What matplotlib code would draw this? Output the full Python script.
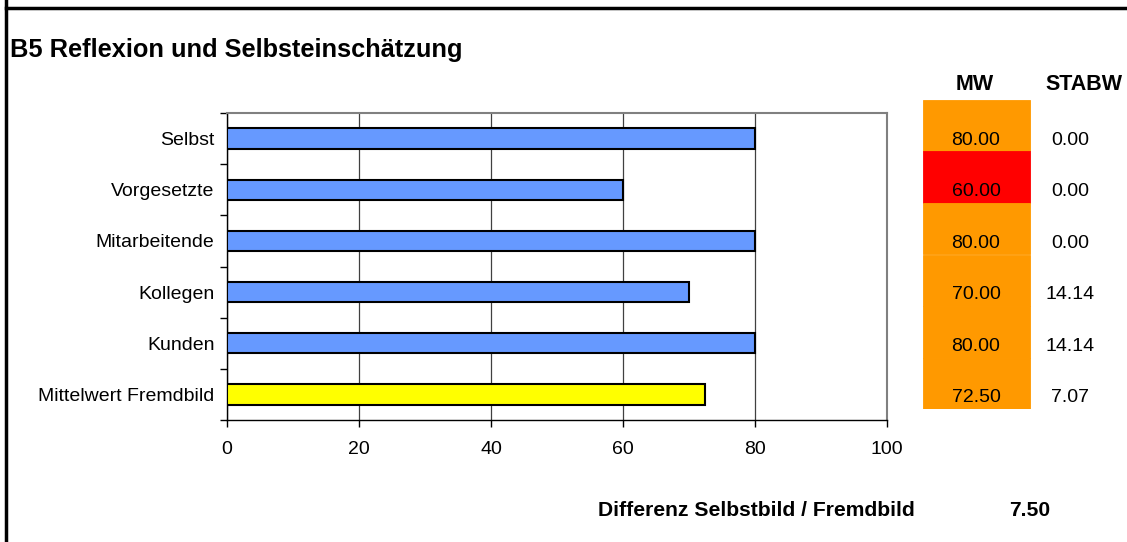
import matplotlib.pyplot as plt
from matplotlib.lines import Line2D

plt.rcParams['font.family'] = ['Liberation Sans', 'DejaVu Sans']

# Data
categories = ['Selbst', 'Vorgesetzte', 'Mitarbeitende', 'Kollegen', 'Kunden', 'Mittelwert Fremdbild']
values = [80, 60, 80, 70, 80, 72.5]
bar_colors = ['#6699FF', '#6699FF', '#6699FF', '#6699FF', '#6699FF', '#FFFF00']
mw_values = [80.00, 60.00, 80.00, 70.00, 80.00, 72.50]
mw_colors = ['#FF9900', '#FF0000', '#FF9900', '#FF9900', '#FF9900', '#FF9900']
stabw_values = [0.00, 0.00, 0.00, 14.14, 14.14, 7.07]
differenz = 7.50

W, H = 1127, 542
fig = plt.figure(figsize=(W / 100, H / 100), dpi=100)

# frame lines (top and left)
fig.add_artist(Line2D([6 / W, 6 / W], [0, 1], color='black', lw=2.5, transform=fig.transFigure))
fig.add_artist(Line2D([6 / W, 1], [1 - 8 / H, 1 - 8 / H], color='black', lw=2.5, transform=fig.transFigure))

fig.text(10 / W, 1 - 50 / H, 'B5 Reflexion und Selbsteinschätzung', fontsize=18.3,
         fontweight='bold', va='center', ha='left')

# main bar chart
ax = fig.add_axes([227 / W, (H - 420) / H, 660 / W, 307 / H])
y = list(range(len(categories)))
ax.barh(y, values, height=0.4, color=bar_colors, edgecolor='black', linewidth=1.5, zorder=3)
ax.set_xlim(0, 100)
ax.set_ylim(len(categories) - 0.5, -0.5)
ax.set_xticks([0, 20, 40, 60, 80, 100])
ax.set_yticks(y)
ax.set_yticklabels(categories)
ax.set_yticks([i - 0.5 for i in range(len(categories) + 1)], minor=True)
ax.tick_params(axis='y', which='major', length=0, pad=9, labelsize=14)
ax.tick_params(axis='y', which='minor', length=5, direction='out', width=1)
ax.tick_params(axis='x', length=5, direction='out', width=1, pad=10, labelsize=14)
ax.grid(axis='x', color='#404040', linewidth=0.9, zorder=0)
for s in ['top', 'right']:
    ax.spines[s].set_color('#808080')
    ax.spines[s].set_linewidth(1.5)
for s in ['left', 'bottom']:
    ax.spines[s].set_color('black')
    ax.spines[s].set_linewidth(1)

# MW / STABW table
tx = fig.add_axes([923 / W, (H - 409) / H, 204 / W, 309 / H])
tx.set_xlim(0, 204)
tx.set_ylim(len(mw_values), 0)
tx.axis('off')
tx.barh([i + 0.5 for i in range(len(mw_values))], [107] * len(mw_values), left=0, height=1.0,
        color=mw_colors, edgecolor=mw_colors, linewidth=0.6)
for i, (m, s) in enumerate(zip(mw_values, stabw_values)):
    tx.text(53, i + 0.78, f'{m:.2f}', ha='center', va='center', fontsize=14)
    tx.text(147, i + 0.78, f'{s:.2f}', ha='center', va='center', fontsize=14)
tx.text(52, -0.3, 'MW', ha='center', va='center', fontsize=15.5, fontweight='bold', clip_on=False)
tx.text(161, -0.3, 'STABW', ha='center', va='center', fontsize=15.5, fontweight='bold', clip_on=False)

# footer
fig.text(598 / W, 1 - 511 / H, 'Differenz Selbstbild / Fremdbild', fontsize=15.2,
         fontweight='bold', va='center', ha='left')
fig.text(1030 / W, 1 - 511 / H, f'{differenz:.2f}', fontsize=15.2,
         fontweight='bold', va='center', ha='center')

fig.savefig('out.png', dpi=100)
